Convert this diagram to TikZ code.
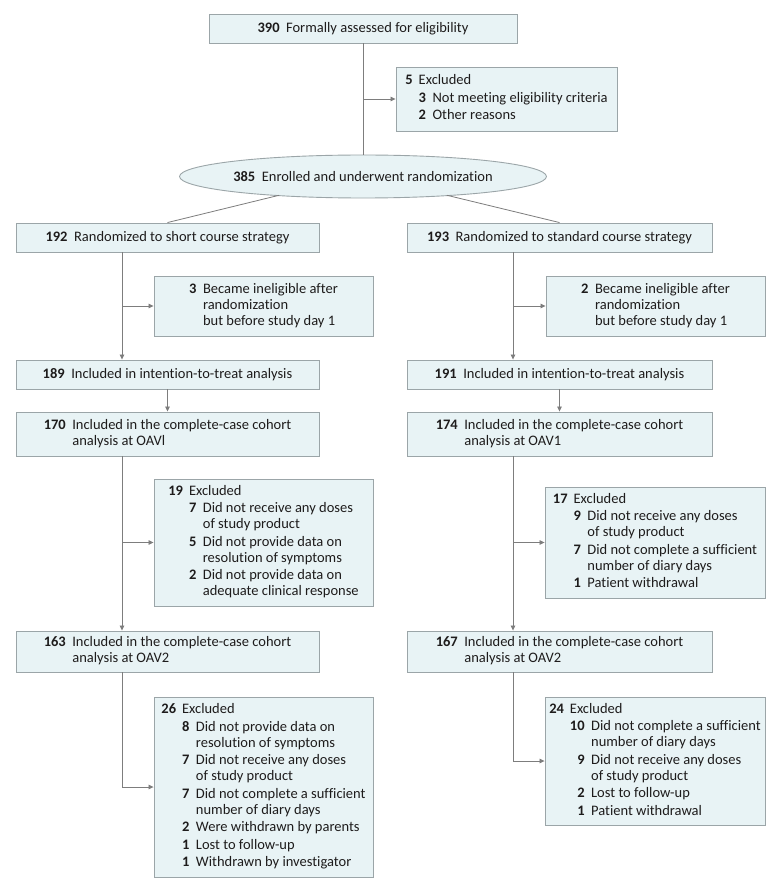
\documentclass[tikz,border=0pt]{standalone}
\usepackage{fontspec}
\setmainfont{Carlito}[Ligatures=CommonOff]
\usetikzlibrary{arrows.meta,shapes.geometric,calc}
\definecolor{boxfill}{RGB}{232,243,245}
\definecolor{boxline}{RGB}{155,165,168}
\definecolor{connc}{RGB}{125,125,125}
\definecolor{txt}{RGB}{30,28,28}
\newcommand{\hdr}[2]{\textbf{#1}\hspace{6.5pt}#2}
\newcommand{\itm}[1]{\textbf{#1}}
\begin{document}
\begin{tikzpicture}[x=1pt,y=-1pt,
  box/.style={draw=boxline,fill=boxfill,line width=0.9pt,inner sep=0pt,text=txt,
    font=\fontsize{14.5}{16}\selectfont},
  conn/.style={draw=connc,line width=0.8pt},
  arr/.style={conn,-{Triangle[length=5pt,width=4.5pt]}}]
\useasboundingbox[fill=white] (0,0) rectangle (780,890);

% top
\node[box,minimum width=308,minimum height=29] (top) at (363,28.5) {\hdr{390}{Formally assessed for eligibility}};
\node[box,minimum width=221,minimum height=64] (ex1) at (506.5,99) {%
\begin{tabular}{@{}r@{\hspace{6pt}}r@{\hspace{6.5pt}}l@{}}
\itm{5} & \multicolumn{2}{@{}l@{}}{Excluded}\\[1.8pt]
 & \itm{3} & Not meeting eligibility criteria\\[1.8pt]
 & \itm{2} & Other reasons
\end{tabular}};
\node[box,ellipse,minimum width=348,minimum height=43] (enr) at (363,176.5) {\hdr{385}{Enrolled and underwent randomization}};

% left column
\node[box,minimum width=303,minimum height=29] (b192) at (167.5,237.5) {\hdr{192}{Randomized to short course strategy}};
\node[box,minimum width=219,minimum height=60] (s3) at (263.5,306) {%
\begin{tabular}{@{}r@{\hspace{6.5pt}}l@{}}
\itm{3} & Became ineligible after\\
 & randomization\\
 & but before study day 1
\end{tabular}};
\node[box,minimum width=303,minimum height=29] (b189) at (167.5,374.5) {\hdr{189}{Included in intention-to-treat analysis}};
\node[box,minimum width=303,minimum height=44] (b170) at (167.5,434) {%
\begin{tabular}{@{}r@{\hspace{6.5pt}}l@{}}
\itm{170} & Included in the complete-case cohort\\
 & analysis at OAVl
\end{tabular}};
\node[box,minimum width=219,minimum height=127] (s19) at (263.5,542.5) {%
\begin{tabular}{@{}r@{\hspace{6pt}}r@{\hspace{6.5pt}}l@{}}
\itm{19} & \multicolumn{2}{@{}l@{}}{Excluded}\\[1.5pt]
 & \itm{7} & Did not receive any doses\\
 & & of study product\\[1.5pt]
 & \itm{5} & Did not provide data on\\
 & & resolution of symptoms\\[1.5pt]
 & \itm{2} & Did not provide data on\\
 & & adequate clinical response
\end{tabular}};
\node[box,minimum width=303,minimum height=41] (b163) at (167.5,651.5) {%
\begin{tabular}{@{}r@{\hspace{6.5pt}}l@{}}
\itm{163} & Included in the complete-case cohort\\
 & analysis at OAV2
\end{tabular}};
\node[box,minimum width=219,minimum height=180] (s26) at (263.5,787) {%
\begin{tabular}{@{}r@{\hspace{6pt}}r@{\hspace{6.5pt}}l@{}}
\itm{26} & \multicolumn{2}{@{}l@{}}{Excluded}\\[1.5pt]
 & \itm{8} & Did not provide data on\\
 & & resolution of symptoms\\[1.5pt]
 & \itm{7} & Did not receive any doses\\
 & & of study product\\[1.5pt]
 & \itm{7} & Did not complete a sufficient\\
 & & number of diary days\\[1.5pt]
 & \itm{2} & Were withdrawn by parents\\[1.5pt]
 & \itm{1} & Lost to follow-up\\[1.5pt]
 & \itm{1} & Withdrawn by investigator
\end{tabular}};

% right column
\node[box,minimum width=305,minimum height=29] (b193) at (559.5,237.5) {\hdr{193}{Randomized to standard course strategy}};
\node[box,minimum width=219,minimum height=60] (s2) at (655.5,306) {%
\begin{tabular}{@{}r@{\hspace{6.5pt}}l@{}}
\itm{2} & Became ineligible after\\
 & randomization\\
 & but before study day 1
\end{tabular}};
\node[box,minimum width=305,minimum height=29] (b191) at (559.5,374.5) {\hdr{191}{Included in intention-to-treat analysis}};
\node[box,minimum width=305,minimum height=44] (b174) at (559.5,434) {%
\begin{tabular}{@{}r@{\hspace{6.5pt}}l@{}}
\itm{174} & Included in the complete-case cohort\\
 & analysis at OAV1
\end{tabular}};
\node[box,minimum width=220,minimum height=111] (s17) at (655,542.5) {%
\begin{tabular}{@{}r@{\hspace{6pt}}r@{\hspace{6.5pt}}l@{}}
\itm{17} & \multicolumn{2}{@{}l@{}}{Excluded}\\[1.5pt]
 & \itm{9} & Did not receive any doses\\
 & & of study product\\[1.5pt]
 & \itm{7} & Did not complete a sufficient\\
 & & number of diary days\\[1.5pt]
 & \itm{1} & Patient withdrawal
\end{tabular}};
\node[box,minimum width=305,minimum height=41] (b167) at (559.5,651.5) {%
\begin{tabular}{@{}r@{\hspace{6.5pt}}l@{}}
\itm{167} & Included in the complete-case cohort\\
 & analysis at OAV2
\end{tabular}};
\node[box,minimum width=220,minimum height=128] (s24) at (655,761) {%
\begin{tabular}{@{}r@{\hspace{6pt}}r@{\hspace{6.5pt}}l@{}}
\itm{24} & \multicolumn{2}{@{}l@{}}{Excluded}\\[1.5pt]
 & \itm{10} & Did not complete a sufficient\\
 & & number of diary days\\[1.5pt]
 & \itm{9} & Did not receive any doses\\
 & & of study product\\[1.5pt]
 & \itm{2} & Lost to follow-up\\[1.5pt]
 & \itm{1} & Patient withdrawal
\end{tabular}};

% connectors
\coordinate (L) at (122,0);
\coordinate (R) at (513,0);
\coordinate (eL) at ($(enr.center)+(-84,18.8)$);
\coordinate (eR) at ($(enr.center)+(84,18.8)$);

\draw[conn] (top.south) -- (enr.north);
\draw[arr] (top.south |- ex1.west) -- (ex1.west);
\draw[conn] (eL) -- (b192.north);
\draw[conn] (eR) -- (b193.north);

\draw[arr] (b192.south -| L) -- (b189.north -| L);
\draw[arr] (s3.west -| L) -- (s3.west);
\draw[arr] (b189.south) -- (b170.north);
\draw[arr] (b170.south -| L) -- (b163.north -| L);
\draw[arr] (s19.west -| L) -- (s19.west);
\draw[arr] (b163.south -| L) |- (s26.west);

\draw[arr] (b193.south -| R) -- (b191.north -| R);
\draw[arr] (s2.west -| R) -- (s2.west);
\draw[arr] (b191.south) -- (b174.north);
\draw[arr] (b174.south -| R) -- (b167.north -| R);
\draw[arr] (s17.west -| R) -- (s17.west);
\draw[arr] (b167.south -| R) |- (s24.west);
\end{tikzpicture}
\end{document}
